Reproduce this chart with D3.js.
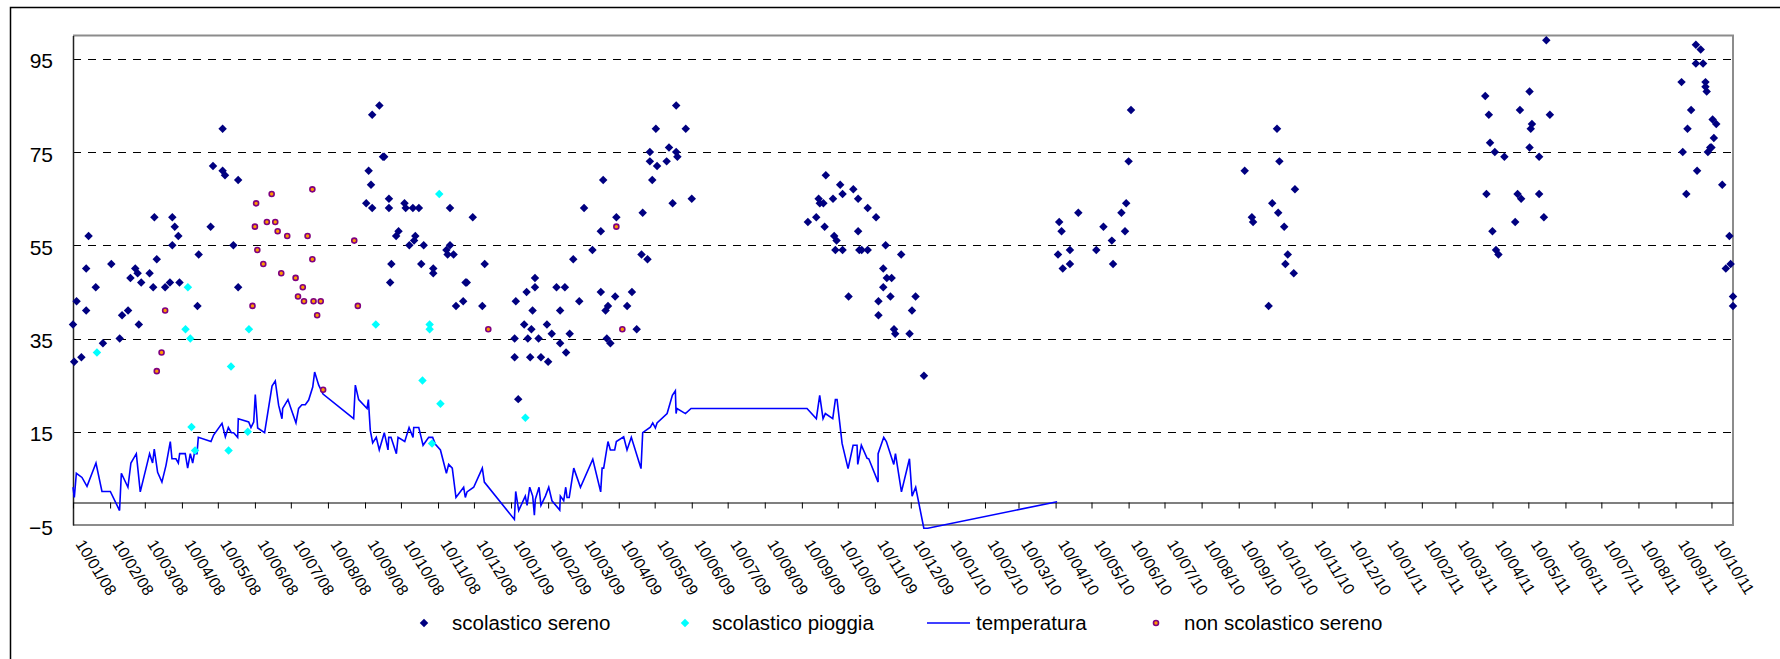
<!DOCTYPE html>
<html>
<head>
<meta charset="utf-8">
<script src="https://cdn.jsdelivr.net/npm/d3@7"></script>
<style>
  body { margin: 0; background: #fff; }
  svg { display: block; font-family: "Liberation Sans", Arial, sans-serif; }
</style>
</head>
<body>
<svg width="1780" height="659"></svg>
<script>
// day offsets are counted from 10/01/08 (first tick of the axis)
var startDate = new Date(Date.UTC(2008, 0, 10)),
    endDate = new Date(Date.UTC(2011, 9, 28));

var yTicks = [-5, 15, 35, 55, 75, 95];

var seriesNames = ["scolastico sereno", "scolastico pioggia", "temperatura", "non scolastico sereno"];

// [day, value]
var scolSereno = [
  [0,38],[1,30],[3,43],[7,31],[11,41],[11,50],[13,57],[19,46],[25,34],[32,51],[39,35],[41,40],[46,41],[48,48],[52,50],[54,49],
  [55,38],[57,47],[64,49],[67,46],[68,61],[70,52],[77,46],[81,47],[83,61],[83,55],[85,59],[88,57],[89,47],[104,42],[105,53],
  [115,59],[117,72],[125,80],[125,71],[127,70],[134,55],[138,69],[138,46],
  [245,64],[247,71],[249,68],[250,83],[250,63],[256,85],[259,74],[260,74],[264,65],[264,63],[265,47],[266,51],[270,57],[272,58],
  [277,64],[278,63],[281,55],[284,63],[285,56],[286,57],[289,63],[291,51],[293,55],[301,50],[301,49],[312,54],[313,53],[315,63],
  [315,55],[318,53],[320,42],[326,43],[328,47],[329,47],[334,61],[342,42],[344,51],
  [369,35],[369,31],[370,43],[372,22],[377,38],[379,45],[380,35],[382,31],[383,37],[384,41],[386,48],[386,46],[389,35],[391,31],
  [396,38],[397,30],[400,36],[404,46],[407,41],[407,34],[411,46],[412,32],[415,36],[418,52],[423,43],[427,63],[434,54],[441,58],
  [441,45],[443,69],[445,41],[446,35],[447,42],[449,34],[453,44],[454,61],[463,42],[467,45],[471,37],[475,53],[476,62],[480,52],
  [482,75],[482,73],[484,69],[487,80],[488,72],[496,73],[498,76],[501,64],[504,85],[504,75],[505,74],[512,80],[517,65],
  [614,60],[621,61],[623,65],[624,64],[627,64],[628,59],[629,70],[635,65],[636,57],[637,54],[638,56],[641,68],[643,66],[643,54],
  [648,44],[652,67],[656,65],[656,58],[657,54],[659,54],[664,54],[664,63],[671,61],[673,43],[673,40],[677,50],[677,46],[679,55],
  [680,48],[683,44],[684,48],[686,37],[687,36],[692,53],[699,36],[701,41],[704,44],[711,27],
  [823,53],[824,60],[826,58],[827,50],[833,54],[833,51],[840,62],[855,54],[861,59],[868,56],[869,51],[876,62],[879,58],[880,64],
  [882,73],[884,84],
  [979,71],[985,61],[986,60],[999,42],[1002,64],[1006,80],[1007,62],[1008,73],[1012,59],[1013,51],[1015,53],[1020,49],[1021,67],
  [1180,87],[1181,66],[1183,83],[1184,77],[1186,58],[1188,75],[1189,54],[1191,53],[1196,74],[1205,60],[1207,66],[1209,84],
  [1210,65],[1217,88],[1217,76],[1218,80],[1219,81],[1225,74],[1225,66],[1229,61],[1231,99],[1234,83],
  [1344,90],[1345,75],[1348,66],[1349,80],[1352,84],[1356,98],[1356,94],[1357,71],[1360,97],[1362,94],[1364,90],[1364,89],
  [1365,88],[1366,75],[1368,76],[1369,76],[1370,82],[1371,78],[1373,81],[1378,68],[1381,50],[1384,57],[1385,51],[1387,44],[1387,42]
];

var scolPioggia = [
  [20,32],[94,37],[96,46],[98,35],[99,16],[102,11],[130,11],[132,29],[146,15],[147,37],[253,38],[292,26],[298,38],[298,37],
  [300,12.5],[306,66],[307,21],[378,18]
];

var nonScolSereno = [
  [70,28],[74,32],[77,41],[150,42],[152,59],[153,64],[154,54],[159,51],[162,60],[166,66],[169,60],[171,58],[174,49],[179,57],
  [186,48],[188,44],[192,46],[193,43],[196,57],[200,67],[200,52],[201,43],[204,40],[207,43],[209,24],[235,56],[238,42],
  [347,37],[454,59],[459,37]
];

var temperatura = [
  [0,3.1],[1.1,0.9],[2.8,6.1],[7.5,5.2],[11.7,3.3],[19.2,8.3],[24.2,2.2],[31.2,2.2],[38.9,-1.9],[40.4,6.1],[45.9,3.1],[48.4,8.3],
  [52.9,10.3],[56.2,2.1],[64,10.3],[66.5,8.3],[67.9,11.3],[70.7,6.3],[74.3,4.2],[77.7,7.8],[81.3,12.9],[82.7,9.2],[86,9.2],
  [88,8.3],[89.1,10.3],[93.8,10.3],[95.8,7.2],[98,10.3],[100,8.3],[101.4,10.3],[103.6,10.3],[104.7,13.8],[115.3,12.9],
  [117.5,14.3],[124.5,16.8],[127.3,13.9],[129.8,15.9],[132.3,14.8],[134.2,14.8],[137.6,13.8],[138.1,17.8],[146.8,17.1],
  [148.7,15.9],[151,17.1],[152.3,23],[154.3,15.8],[160.1,14.8],[166.3,24.8],[169,25.9],[171.8,20.7],[174.6,17.8],[175.2,20],
  [179.6,21.9],[182.1,20],[186.3,16.9],[188.5,20],[191.3,20.8],[194.1,20.8],[196.9,21.8],[200.3,24.6],[201.9,27.8],[205.3,25],
  [208.9,23.1],[234.5,17.8],[235.9,25],[238.7,21.9],[245.7,20],[246.8,21.9],[248.4,15.3],[250.4,12.6],[253.4,13.8],[255.9,11.1],
  [260.1,14.8],[263.2,11.1],[263.8,13.8],[265.7,13.8],[270.2,10.3],[271.6,13.8],[277.2,12.9],[280.8,15.9],[284.1,13.8],
  [284.7,15.9],[288.9,15.9],[290.8,13.9],[292.5,12.1],[297.2,13.8],[300.5,13.8],[302.8,12.3],[307,11.1],[312,6.1],[313.9,8],
  [316.9,7.2],[320,0.9],[326.4,3.1],[327.8,0.9],[329.2,2.1],[334.8,3.1],[342,7.2],[343.7,4.2],[368.8,-3.8],[369.9,2.2],
  [372.4,-1.9],[377.9,1.2],[379.4,-0.8],[381.6,3.1],[384.1,1.2],[385.5,-2.9],[386.3,0.5],[389.4,3.1],[391,-0.8],[394.7,1.2],
  [397.5,3.1],[400.2,0.2],[406.7,-1.8],[407.2,1.2],[410,0.2],[411.7,3.1],[412.8,0.9],[414.6,0.9],[418.4,7.2],[424,3.1],
  [434.3,9.1],[440.9,2.1],[442.1,7.2],[443.4,7.2],[447,12.9],[449,11.1],[452.6,11.1],[454,12.9],[460.1,13.9],[462.9,11.1],
  [466.5,13.8],[474.6,7.1],[476,14.8],[482.4,16],[484.4,16.9],[486.6,15.8],[488,16.9],[496.4,18.9],[500.8,22.8],[503.3,23.8],
  [503.9,18.9],[504.7,20],[511.7,18.9],[516.4,20],[613.3,20],[621.1,17.8],[623.9,22.8],[626.7,17.8],[628.6,18.9],[634.8,17.8],
  [637,21.9],[638.4,21.9],[642.6,12.5],[647.6,7.1],[651.8,12.1],[655.1,12.1],[655.7,8],[658.7,12.1],[663.5,9.3],[664.9,9.2],
  [672.7,4.2],[672.7,10.3],[677.4,13.8],[679.6,12.9],[685.8,8],[687.2,10.3],[692.2,2.1],[698.9,9.2],[701.1,1.2],[704.1,3.1],
  [710.9,-5.7],[714.2,-5.7],[822.3,0]
];

/*=====================================================================================================
                                         Setup
======================================================================================================*/
var svg = d3.select("svg"),
    plotLeft = 73, plotRight = 1733, plotTop = 35.5, plotBottom = 525;

var x = d3.scaleUtc().domain([startDate, endDate]).range([plotLeft, plotRight]),
    y = d3.scaleLinear().domain([-5, 100]).range([plotBottom, plotTop]);

function dayDate(d) {
    return new Date(startDate.getTime() + d * 864e5);
}

var monthTicks = d3.utcMonth.range(startDate, endDate).map(function(m) {
    return new Date(Date.UTC(m.getUTCFullYear(), m.getUTCMonth(), 10));
}).filter(function(d) { return d >= startDate && d <= endDate; });
if (monthTicks[0] > startDate) monthTicks.unshift(startDate);

// outer chart frame
svg.append("rect")
    .attr("x", 10.5).attr("y", 7.5)
    .attr("width", 1800).attr("height", 700)
    .attr("fill", "none").attr("stroke", "#000").attr("stroke-width", 1.5);

// grid lines
svg.append("g")
    .selectAll("line")
    .data(yTicks.slice(1))
    .join("line")
    .attr("x1", plotLeft).attr("x2", plotRight)
    .attr("y1", function(d) { return Math.round(y(d)) + 0.5; })
    .attr("y2", function(d) { return Math.round(y(d)) + 0.5; })
    .attr("stroke", "#000")
    .attr("stroke-dasharray", "8,7")
    .attr("shape-rendering", "crispEdges");

// plot border (gray) top/right/bottom
svg.append("path")
    .attr("d", "M" + plotLeft + "," + plotTop + "H" + plotRight + "V" + plotBottom + "H" + plotLeft)
    .attr("fill", "none").attr("stroke", "#8c8c8c").attr("stroke-width", 2);

// y axis
var yAxis = svg.append("g")
    .attr("transform", "translate(" + plotLeft + ",0)")
    .attr("font-size", 21)
    .call(d3.axisLeft(y).tickValues(yTicks).tickSize(0).tickPadding(20).tickFormat(d3.format("d")));
yAxis.attr("font-size", 21).attr("font-family", "Liberation Sans, Arial, sans-serif");
yAxis.select(".domain").attr("stroke", "#222").attr("stroke-width", 1.5);
yAxis.selectAll("text")
    .attr("font-size", 21).attr("fill", "#000").attr("dy", "0.43em");

// x axis, crossing at 0
var xAxis = svg.append("g")
    .attr("transform", "translate(0," + (Math.round(y(0)) + 0.5) + ")")
    .call(d3.axisBottom(x).tickValues(monthTicks).tickSize(6).tickSizeOuter(0).tickFormat(""));
xAxis.select(".domain").attr("stroke", "#000").attr("stroke-width", 1.2);
xAxis.selectAll(".tick line").attr("stroke", "#000");

// rotated date labels below the plot
var fmt = d3.utcFormat("%d/%m/%y");
svg.append("g")
    .selectAll("text")
    .data(monthTicks)
    .join("text")
    .attr("transform", function(d) { return "translate(" + (x(d) + 2) + ",544) rotate(58)"; })
    .attr("font-size", 16)
    .attr("fill", "#000")
    .text(function(d) { return fmt(d); });

/*=====================================================================================================
                                         Series
======================================================================================================*/
var diamond = d3.symbol().type(d3.symbolSquare).size(36);

var line = d3.line()
    .x(function(d) { return x(dayDate(d[0])); })
    .y(function(d) { return y(d[1]); });

svg.append("path")
    .datum(temperatura)
    .attr("d", line)
    .attr("fill", "none")
    .attr("stroke", "#0000ff")
    .attr("stroke-width", 1.6)
    .attr("stroke-linejoin", "miter");

function drawDiamonds(data, colour) {
    svg.append("g")
        .selectAll("path")
        .data(data)
        .join("path")
        .attr("d", diamond)
        .attr("transform", function(d) {
            return "translate(" + x(dayDate(d[0])) + "," + y(d[1]) + ") rotate(45)";
        })
        .attr("fill", colour);
}

drawDiamonds(scolSereno, "#000080");
drawDiamonds(scolPioggia, "#00ffff");

svg.append("g")
    .selectAll("circle")
    .data(nonScolSereno)
    .join("circle")
    .attr("cx", function(d) { return x(dayDate(d[0])); })
    .attr("cy", function(d) { return y(d[1]); })
    .attr("r", 2.5)
    .attr("fill", "#ff9900")
    .attr("stroke", "#800080")
    .attr("stroke-width", 1.6);

/*=====================================================================================================
                                         Legend
======================================================================================================*/
var legendY = 623,
    legendX = [424, 685, 948, 1156],
    legendTextX = [452, 712, 976, 1184];

var legend = svg.append("g");
legend.append("path").attr("d", diamond)
    .attr("transform", "translate(" + legendX[0] + "," + legendY + ") rotate(45)").attr("fill", "#000080");
legend.append("path").attr("d", diamond)
    .attr("transform", "translate(" + legendX[1] + "," + legendY + ") rotate(45)").attr("fill", "#00ffff");
legend.append("line")
    .attr("x1", 927).attr("x2", 970).attr("y1", legendY).attr("y2", legendY)
    .attr("stroke", "#0000ff").attr("stroke-width", 1.6);
legend.append("circle")
    .attr("cx", legendX[3]).attr("cy", legendY).attr("r", 2.5)
    .attr("fill", "#ff9900").attr("stroke", "#800080").attr("stroke-width", 1.6);

legend.selectAll("text")
    .data(seriesNames)
    .join("text")
    .attr("x", function(d, i) { return legendTextX[i]; })
    .attr("y", 630)
    .attr("font-size", 20.5)
    .attr("fill", "#000")
    .text(function(d) { return d; });
</script>
</body>
</html>
